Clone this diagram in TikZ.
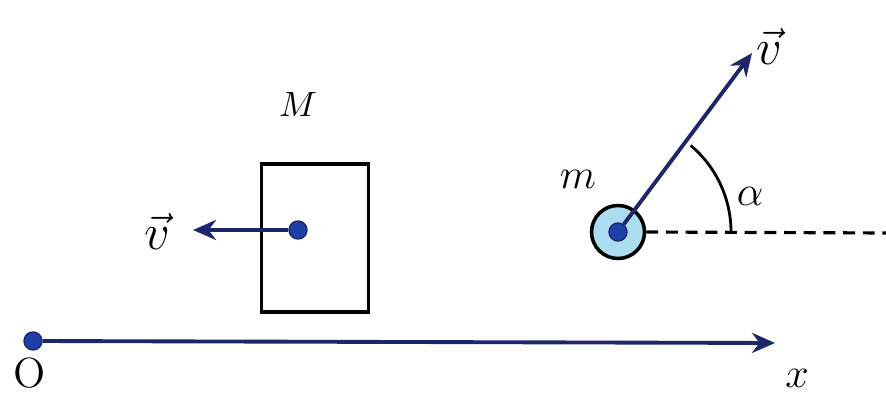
\documentclass[tikz,border=0pt]{standalone}
\usepackage{amsmath}
\usepackage{xcolor}
\usepackage{tikz}
\usetikzlibrary{arrows.meta,positioning}

\definecolor{vecblue}{RGB}{28,38,105}
\definecolor{dotblue}{RGB}{30,62,170}
\definecolor{ballblue}{RGB}{172,220,240}

\begin{document}
\begin{tikzpicture}[
    x=0.1mm, y=-0.1mm,
    >={Stealth[length=2.3mm,width=2mm]},
    vec/.style={draw=vecblue, line width=1.1pt},
    dot/.style={circle, draw=vecblue, fill=dotblue, inner sep=0pt, minimum size=1.8mm},
    lbl/.style={font=\normalsize, inner sep=1pt},
    vlbl/.style={font=\Large, inner sep=1pt}
]
    \useasboundingbox (0,0) rectangle (886,393);

    % block M
    \node[draw, line width=1pt, minimum width=10.7mm, minimum height=14.8mm, inner sep=0pt] (block) at (315,238) {};
    \node[dot] (MC) at (298,230) {};
    \coordinate (VM) at (193,230);
    \draw[vec, ->] (MC) -- (VM);
    \node[vlbl] (VML) at (157,231) {$\vec{v}$};
    \node[lbl] (ML) at (298,104) {$M$};

    % particle m
    \node[circle, draw=black, fill=ballblue, line width=1pt, minimum size=5.3mm, inner sep=0pt] (ball) at (618,232) {};
    \node[dot] (mc) at (ball.center) {};
    \coordinate (VT) at (752,53);
    \coordinate (HE) at (886,233);
    \draw[dash pattern=on 3.4pt off 2.2pt, line width=0.9pt] (ball.east) -- (HE);
    \draw[vec, ->] (mc) -- (VT);
    \draw[line width=0.8pt] (ball.center) ++(0:113) arc[start angle=0, end angle=-50, radius=113];
    \node[vlbl] (VTL) at (769,46) {$\vec{v}$};
    \node[lbl, font=\large] (mL) at (578,179) {$m$};
    \node[lbl, font=\large] (aL) at (750,196) {$\alpha$};

    % x axis
    \node[dot] (O) at (33,341) {};
    \coordinate (XE) at (775,343);
    \draw[vec, ->] (O) -- (XE);
    \node[lbl, font=\large] (OL) at (30,373) {O};
    \node[lbl, font=\large] (XL) at (797,378) {$x$};
\end{tikzpicture}
\end{document}
